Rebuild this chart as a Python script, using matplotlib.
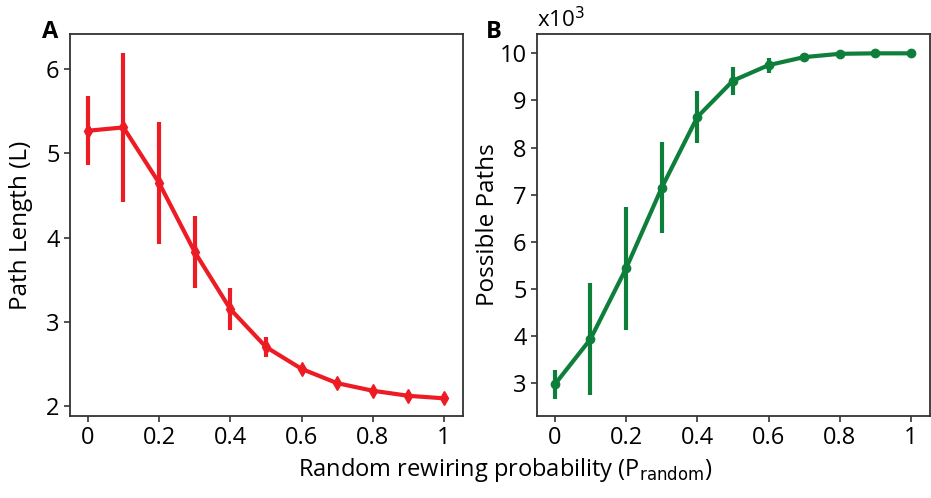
import matplotlib.pyplot as plt

plt.rcParams['font.family'] = ['Open Sans', 'DejaVu Sans']

# rewiring probability
p_random = [0, 0.1, 0.2, 0.3, 0.4, 0.5, 0.6, 0.7, 0.8, 0.9, 1.0]

# panel A: path length
path_len = [5.27, 5.31, 4.65, 3.83, 3.15, 2.70, 2.44, 2.27, 2.18, 2.12, 2.09]
path_err = [0.41, 0.89, 0.72, 0.43, 0.25, 0.12, 0.04, 0.03, 0.03, 0.03, 0.03]

# panel B: possible paths (x10^3)
paths = [2.98, 3.94, 5.44, 7.15, 8.65, 9.42, 9.75, 9.92, 9.99, 10.0, 10.0]
paths_err = [0.30, 1.18, 1.31, 0.97, 0.56, 0.30, 0.16, 0.04, 0.02, 0.02, 0.02]

red = '#ED1C24'
green = '#0E7F3B'
xticks = [0, 0.2, 0.4, 0.6, 0.8, 1.0]
xticklabels = ['0', '0.2', '0.4', '0.6', '0.8', '1']

fig = plt.figure(figsize=(9.31, 4.98), dpi=100)
ax1 = fig.add_axes([70 / 931, 1 - 416 / 498, 393 / 931, 382 / 498])
ax2 = fig.add_axes([537 / 931, 1 - 416 / 498, 393 / 931, 382 / 498])

ax1.errorbar(p_random, path_len, yerr=path_err, color=red, lw=3, elinewidth=3,
             marker='d', markersize=7, capsize=0)
ax1.set_ylim(1.88, 6.42)
ax1.set_yticks([2, 3, 4, 5, 6])
ax1.set_ylabel('Path Length (L)', fontsize=17.5)

ax2.errorbar(p_random, paths, yerr=paths_err, color=green, lw=3, elinewidth=3,
             marker='o', markersize=6, capsize=0)
ax2.set_ylim(2.31, 10.41)
ax2.set_yticks([3, 4, 5, 6, 7, 8, 9, 10])
ax2.set_ylabel('Possible Paths', fontsize=17.5)
ax2.text(0.0, 1.005, 'x10$^3$', transform=ax2.transAxes, fontsize=16,
         ha='left', va='bottom')

for ax in (ax1, ax2):
    ax.set_xlim(-0.05, 1.053)
    ax.set_xticks(xticks)
    ax.set_xticklabels(xticklabels)
    ax.yaxis.set_label_coords(-0.095, 0.5)
    ax.tick_params(labelsize=17, length=4, width=1.2, color='#333333')
    for s in ax.spines.values():
        s.set_linewidth(1.3)
        s.set_color('#333333')

fig.text(42 / 931, 1 - 32 / 498, 'A', fontsize=17, fontweight='bold', ha='left', va='center')
fig.text(486 / 931, 1 - 32 / 498, 'B', fontsize=17, fontweight='bold', ha='left', va='center')
fig.text(505 / 931, 1 - 470 / 498, 'Random rewiring probability (P$_{\\mathrm{random}}$)',
         fontsize=17, ha='center', va='center')

fig.savefig('out.png', dpi=100)
